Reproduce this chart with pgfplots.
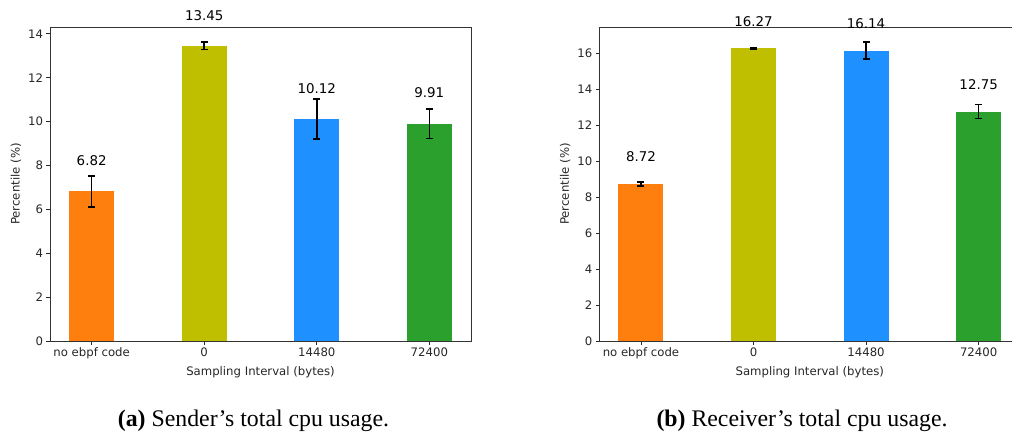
\documentclass[border=0pt]{standalone}
\usepackage{fontspec}
\setmainfont{DejaVu Sans}
\newfontfamily\capfont{Liberation Serif}
\usepackage{pgfplots}
\pgfplotsset{compat=1.18}
\definecolor{corange}{HTML}{FF7F0E}
\definecolor{colive}{HTML}{BFBF00}
\definecolor{cblue}{HTML}{1E90FF}
\definecolor{cgreen}{HTML}{2CA02C}
\pgfplotsset{
  mystyle/.style={
    scale only axis, width=421pt, height=313.7pt,
    xmin=-0.37, xmax=3.37, ymin=0,
    xtick={0,1,2,3}, xticklabels={no ebpf code,0,14480,72400},
    tick align=outside, tick pos=left, major tick length=3.5pt,
    tick style={line width=0.8pt, color=black!85},
    axis line style={line width=0.8pt, black!80},
    ticklabel style={font=\fontsize{11.7}{12}\selectfont, text=black!85},
    label style={font=\fontsize{11.7}{12}\selectfont, text=black!85},
    xlabel={Sampling Interval (bytes)}, ylabel={Percentile (\%)},
    /pgf/number format/assume math mode=true,
    clip=false,
  },
  mybar/.style={ybar, bar shift=0pt, bar width=0.4, draw=none, fill=#1,
    error bars/.cd, y dir=both, y explicit,
    error bar style={line width=1.6pt, black},
    error mark options={rotate=90, mark size=3.5pt, line width=1.6pt, black}},
  mylab/.style={draw=none, mark=none, nodes near coords, point meta=explicit symbolic,
    every node near coord/.append style={anchor=center, font=\fontsize{13.4}{14}\selectfont, text=black}},
}
\begin{document}
\begin{tikzpicture}
\clip (0,0) rectangle (1012pt,437pt);
\begin{axis}[mystyle, at={(50pt,96pt)}, anchor=south west, ymax=14.30, ytick={0,2,...,14}]
\addplot[mybar=corange] coordinates {(0,6.82) +- (0,0.70)};
\addplot[mybar=colive] coordinates {(1,13.45) +- (0,0.17)};
\addplot[mybar=cblue] coordinates {(2,10.12) +- (0,0.90)};
\addplot[mybar=cgreen] coordinates {(3,9.91) +- (0,0.67)};
\addplot[mylab] coordinates {(0,8.22) [6.82] (1,14.85) [13.45] (2,11.52) [10.12] (3,11.31) [9.91]};
\end{axis}
\begin{axis}[mystyle, at={(599.3pt,96pt)}, anchor=south west, ymax=17.43, ytick={0,2,...,16}]
\addplot[mybar=corange] coordinates {(0,8.72) +- (0,0.10)};
\addplot[mybar=colive] coordinates {(1,16.27) +- (0,0.03)};
\addplot[mybar=cblue] coordinates {(2,16.14) +- (0,0.48)};
\addplot[mybar=cgreen] coordinates {(3,12.75) +- (0,0.38)};
\addplot[mylab] coordinates {(0,10.22) [8.72] (1,17.77) [16.27] (2,17.62) [16.14] (3,14.23) [12.75]};
\end{axis}
\node[font=\capfont\fontsize{23.8}{26}\selectfont] at (253.5pt,16pt) {\textbf{(a)} Sender’s total cpu usage.};
\node[font=\capfont\fontsize{23.8}{26}\selectfont] at (802pt,16pt) {\textbf{(b)} Receiver’s total cpu usage.};
\end{tikzpicture}
\end{document}
